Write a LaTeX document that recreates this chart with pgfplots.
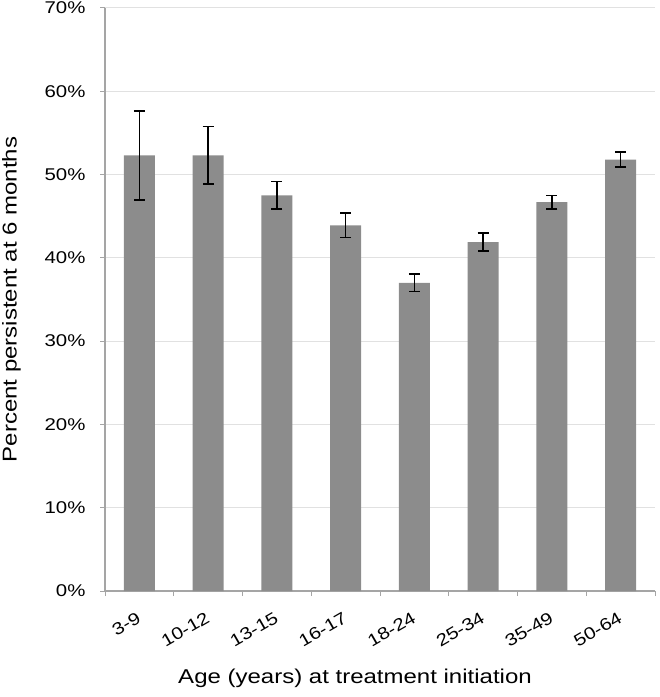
\documentclass[border=0pt]{standalone}
\usepackage{fontspec}
\setmainfont{Liberation Sans}[FakeStretch=1.2]
\usepackage{pgfplots}
\pgfplotsset{compat=1.18}
\usepackage{pgfplotstable}
\definecolor{bargray}{RGB}{140,140,140}
\definecolor{axgray}{RGB}{165,165,165}
\definecolor{gridgray}{RGB}{225,225,225}

\pgfplotstableread{
x  y    err
1  52.3 5.35
2  52.3 3.45
3  47.5 1.65
4  43.9 1.45
5  37.0 1.05
6  41.9 1.05
7  46.7 0.80
8  51.8 0.90
}\persist

\begin{document}
\begin{tikzpicture}
  \begin{axis}[
      name=ax,
      scale only axis,
      width=550bp, height=583bp,
      xmin=0.5, xmax=8.5,
      ymin=0, ymax=70,
      axis lines*=left,
      axis line style={axgray, line width=1.2pt, -},
      ytick={0,10,...,70},
      yticklabel={\pgfmathprintnumber{\tick}\%},
      ymajorgrids,
      grid style={gridgray, line width=1pt},
      xtick={1,...,8},
      xticklabels={3-9,10-12,13-15,16-17,18-24,25-34,35-49,50-64},
      major x tick style={draw=none},
      minor xtick={0.5,1.5,...,8.5},
      minor x tick style={axgray, line width=1pt},
      major y tick style={axgray, line width=1pt},
      tick align=outside,
      major tick length=5bp,
      minor tick length=5bp,
      /pgf/number format/assume math mode=true,
      ticklabel style={font=\fontsize{17bp}{20bp}\selectfont},
      yticklabel style={xshift=-11bp},
      % shifts act in the rotated frame
      xticklabel style={rotate=30, anchor=north east, xshift=-7bp, yshift=-8bp},
      label style={font=\fontsize{20bp}{24bp}\selectfont},
      xlabel={Age (years) at treatment initiation},
      xlabel style={at={(axis description cs:0.5,0)}, anchor=north, yshift=-74bp, xshift=-25bp},
      ylabel={Percent persistent at 6 months},
      ylabel style={yshift=17bp},
    ]
    \addplot[ybar, bar width=31bp, fill=bargray, draw=none,
      error bars/.cd, y dir=both, y explicit,
      error bar style={black, line width=1.6pt},
      error mark options={rotate=90, mark size=5.5bp, line width=1.6pt}]
      table[x=x, y=y, y error=err] {\persist};
  \end{axis}
  \pgfresetboundingbox
  \path[use as bounding box] ([xshift=-105bp, yshift=-106bp]ax.south west)
    rectangle ([xshift=5bp, yshift=8bp]ax.north east);
\end{tikzpicture}
\end{document}
